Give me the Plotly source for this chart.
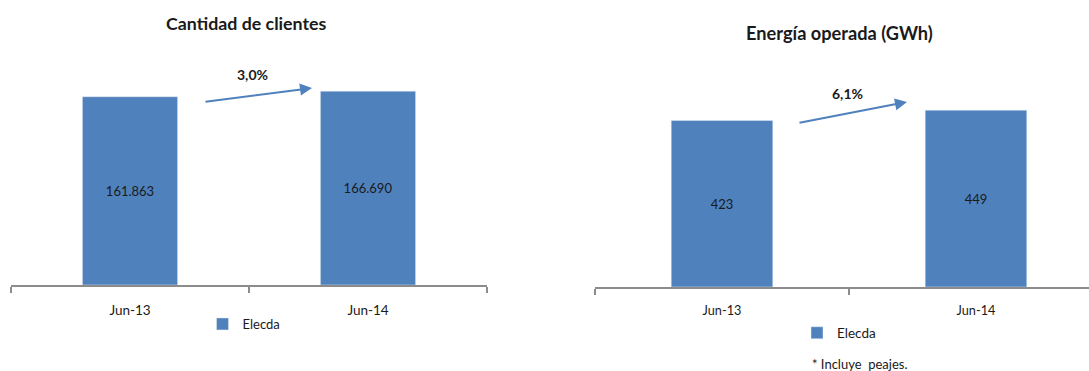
import plotly.graph_objects as go

categories = ["Jun-13", "Jun-14"]
clientes = [161863, 166690]
energia = [423, 449]
series_name = "Elecda"
growth_clientes = "3,0%"
growth_energia = "6,1%"
title_left = "Cantidad de clientes"
title_right = "Energía operada (GWh)"
footnote = "* Incluye  peajes."

W, H = 1089, 371
FONT = "Lato, 'Open Sans', sans-serif"
BAR = "#4F81BD"
AX = "#8C8C8C"
TXT = "#1A1A1A"

def px(x):
    return x / W

def py(y):
    return 1 - y / H

fig = go.Figure()
fig.add_trace(go.Bar(
    x=categories, y=clientes, name=series_name, marker=dict(color=BAR),
    texttemplate="%{y:,}", textposition="inside", insidetextanchor="middle",
    textfont=dict(size=13, color=TXT, family=FONT), xaxis="x", yaxis="y",
    legend="legend", showlegend=True, hoverinfo="skip"))
fig.add_trace(go.Bar(
    x=categories, y=energia, name=series_name, marker=dict(color=BAR),
    texttemplate="%{y:,}", textposition="inside", insidetextanchor="middle",
    textfont=dict(size=13, color=TXT, family=FONT), xaxis="x2", yaxis="y2",
    legend="legend2", showlegend=True, hoverinfo="skip"))

xcommon = dict(type="category", showline=True, linecolor=AX, linewidth=2,
               ticks="outside", tickson="boundaries", ticklen=6, tickwidth=2,
               tickcolor=AX, showgrid=False, zeroline=False)
fig.update_layout(
    width=W, height=H, margin=dict(l=0, r=0, t=0, b=0),
    paper_bgcolor="white", plot_bgcolor="white",
    separators=",.", bargap=0.6, uniformtext=dict(minsize=8),
    font=dict(family=FONT, color=TXT),
    xaxis=dict(domain=[px(11), px(487)], range=[-0.5, 1.5], anchor="y",
               tickfont=dict(size=13.5, family=FONT, color=TXT), ticklabelstandoff=12,
               **xcommon),
    yaxis=dict(domain=[py(285), py(52.4)], range=[0, 200000], visible=False,
               anchor="x"),
    xaxis2=dict(domain=[px(595), 1.0], range=[-0.5, 1.445], anchor="y2",
                tickfont=dict(size=12.7, family=FONT, color=TXT), ticklabelstandoff=11,
                **xcommon),
    yaxis2=dict(domain=[py(287), py(94)], range=[0, 490], visible=False,
                anchor="x2"),
    legend=dict(x=px(244), y=py(324), xanchor="center", yanchor="middle",
                orientation="h", font=dict(size=13, family=FONT, color=TXT),
                itemwidth=30, bgcolor="rgba(0,0,0,0)"),
    legend2=dict(x=px(839), y=py(333), xanchor="center", yanchor="middle",
                 orientation="h", font=dict(size=13.5, family=FONT, color=TXT),
                 itemwidth=30, bgcolor="rgba(0,0,0,0)"),
)

annotations = [
    dict(text=f"<b>{title_left}</b>", x=px(246), y=py(23), xref="paper", yref="paper",
         showarrow=False, font=dict(size=17.8, family=FONT, color=TXT),
         xanchor="center", yanchor="middle"),
    dict(text=f"<b>{title_right}</b>", x=px(839), y=py(33), xref="paper", yref="paper",
         showarrow=False, font=dict(size=18.2, family=FONT, color=TXT),
         xanchor="center", yanchor="middle"),
    dict(text=f"<b>{growth_clientes}</b>", x=px(252), y=py(75), xref="paper", yref="paper",
         showarrow=False, font=dict(size=14, family=FONT, color=TXT),
         xanchor="center", yanchor="middle"),
    dict(text=f"<b>{growth_energia}</b>", x=px(848), y=py(94), xref="paper", yref="paper",
         showarrow=False, font=dict(size=14, family=FONT, color=TXT),
         xanchor="center", yanchor="middle"),
    dict(text=footnote, x=px(860), y=py(364), xref="paper", yref="paper",
         showarrow=False, font=dict(size=13, family=FONT, color=TXT),
         xanchor="center", yanchor="middle"),
    # growth arrows (tail given as pixel offsets from the head)
    dict(x=px(312), y=py(88), ax=-108, ay=14, xref="paper", yref="paper",
         axref="pixel", ayref="pixel", showarrow=True, arrowhead=2, arrowsize=1.2,
         arrowwidth=2, arrowcolor=BAR, text=""),
    dict(x=px(907), y=py(102), ax=-109, ay=21, xref="paper", yref="paper",
         axref="pixel", ayref="pixel", showarrow=True, arrowhead=2, arrowsize=1.2,
         arrowwidth=2, arrowcolor=BAR, text=""),
]
fig.update_layout(annotations=annotations)

fig.write_html("out.html")
